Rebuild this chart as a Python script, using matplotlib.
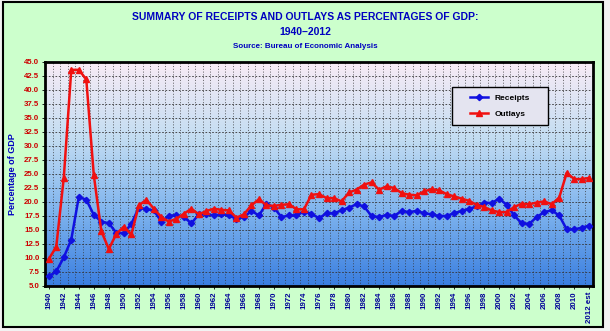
import numpy as np
import matplotlib
matplotlib.use("Agg")
import matplotlib.pyplot as plt
from matplotlib.colors import LinearSegmentedColormap
from matplotlib.patches import Rectangle

plt.rcParams["font.family"] = ["Liberation Sans", "DejaVu Sans"]

years = list(range(1940, 2013))
year_labels = [str(y) if y < 2012 else "2012 est" for y in years]

receipts = [6.7, 7.6, 10.1, 13.3, 20.9, 20.4, 17.7, 16.5, 16.2, 14.5,
            14.4, 16.1, 19.0, 18.7, 18.5, 16.5, 17.5, 17.7, 17.3, 16.2,
            17.8, 17.8, 17.6, 17.8, 17.6, 17.0, 17.3, 18.4, 17.6, 19.7,
            19.0, 17.3, 17.6, 17.6, 18.3, 17.9, 17.1, 18.0, 18.0, 18.5,
            19.0, 19.6, 19.2, 17.5, 17.3, 17.7, 17.5, 18.4, 18.2, 18.4,
            18.0, 17.8, 17.5, 17.5, 18.0, 18.4, 18.8, 19.2, 19.9, 19.8,
            20.6, 19.5, 17.6, 16.2, 16.1, 17.3, 18.2, 18.5, 17.6, 15.1,
            15.1, 15.4, 15.8]

outlays = [9.8, 12.0, 24.3, 43.6, 43.6, 41.9, 24.8, 14.8, 11.6, 14.3,
           15.6, 14.2, 19.4, 20.4, 18.8, 17.3, 16.5, 17.0, 17.9, 18.8,
           17.8, 18.4, 18.8, 18.6, 18.5, 17.2, 17.8, 19.4, 20.5, 19.4,
           19.3, 19.5, 19.6, 18.7, 18.7, 21.3, 21.4, 20.7, 20.7, 20.1,
           21.7, 22.2, 23.1, 23.5, 22.2, 22.8, 22.5, 21.6, 21.3, 21.2,
           21.9, 22.3, 22.1, 21.4, 21.0, 20.6, 20.2, 19.5, 19.1, 18.5,
           18.2, 18.2, 19.1, 19.7, 19.6, 19.9, 20.1, 19.6, 20.8, 25.2,
           24.1, 24.1, 24.3]

y_ticks = np.arange(5.0, 45.01, 2.5)

fig = plt.figure(figsize=(6.1, 3.31), dpi=100, facecolor="#F2F2F2")

# light green outer panel
panel = Rectangle((3 / 610, 1 - 327 / 331), 600 / 610, 325 / 331,
                  transform=fig.transFigure, facecolor="#CCFFCC",
                  edgecolor="black", linewidth=1.5)
panel.set_zorder(-5)
fig.add_artist(panel)

ax = fig.add_axes([45 / 610, 1 - 286 / 331, 548 / 610, 224 / 331])
ax.set_zorder(2)
ax.set_facecolor("none")

# gradient background
cmap = LinearSegmentedColormap.from_list("bg", ["#3A7EE0", "#7FB4EE", "#C4DDF2", "#F8ECF6"])
grad = np.linspace(0, 1, 256).reshape(-1, 1)
ax.imshow(grad, cmap=cmap, origin="lower", extent=[0, 1, 0, 1], aspect="auto",
          transform=ax.transAxes, zorder=0)

x = np.arange(len(years))
ax.plot(x, receipts, color="#1010E0", lw=1.8, marker="D", ms=3.2, label="Receipts", zorder=3)
ax.plot(x, outlays, color="#F01010", lw=1.8, marker="^", ms=4.2, label="Outlays", zorder=3)

ax.set_xlim(-0.5, len(years) - 0.5)
ax.set_ylim(5, 45)
ax.set_yticks(y_ticks)
ax.set_yticklabels([f"{v:.1f}" for v in y_ticks], color="#CC0000", fontsize=5.7, fontweight="bold")
ax.set_xticks(x[::2])
ax.set_xticklabels(year_labels[::2], rotation=90, color="#000099", fontsize=5.7, fontweight="bold")
ax.tick_params(axis="both", length=2, width=0.6, pad=2)

# grid lines
for yv in y_ticks[1:-1]:
    ax.axhline(yv, color="#333333", lw=0.6, ls=(0, (2, 2)), zorder=1)
for xv in np.arange(0.5, len(years) - 0.5, 1):
    ax.axvline(xv, color="#333333", lw=0.5, ls=(0, (1.5, 2.5)), zorder=1)

for s in ax.spines.values():
    s.set_linewidth(2)
    s.set_color("black")

ax.set_ylabel("Percentage of GDP", color="#0000C0", fontsize=6.5, fontweight="bold", labelpad=5)

# legend with its own box
ax.add_patch(Rectangle((0.743, 0.719), 0.175, 0.169, transform=ax.transAxes,
                       facecolor="#E4E4F0", edgecolor="black", lw=1, zorder=4))
leg = ax.legend(loc="center", bbox_to_anchor=(0.83, 0.803), frameon=False,
                prop={"weight": "bold", "size": 6}, handlelength=2.2, labelspacing=0.9)
leg.set_zorder(5)

fig.text(0.5, 1 - 17 / 331, "SUMMARY OF RECEIPTS AND OUTLAYS AS PERCENTAGES OF GDP:",
         ha="center", va="center", color="#0000C0", fontsize=7.5, fontweight="bold")
fig.text(0.5, 1 - 32 / 331, "1940\u20132012", ha="center", va="center",
         color="#0000C0", fontsize=7.5, fontweight="bold")
fig.text(0.5, 1 - 47 / 331, "Source: Bureau of Economic Analysis", ha="center", va="center",
         color="#0000C0", fontsize=5.8, fontweight="bold")

fig.savefig("out.png", dpi=100, facecolor=fig.get_facecolor())
